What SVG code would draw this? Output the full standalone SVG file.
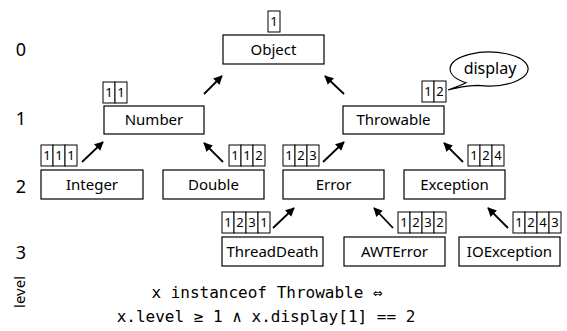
<svg xmlns="http://www.w3.org/2000/svg" width="567" height="331" viewBox="0 0 567 331">
<defs>
<style>
.box{fill:#fff;stroke:#000;stroke-width:1.2}
.cell{fill:#fff;stroke:#000;stroke-width:1}
.t{font-family:"Noto Sans","Open Sans",sans-serif;font-size:15px;text-anchor:middle;fill:#000}
.c{font-family:"Noto Sans","Open Sans",sans-serif;font-size:13px;text-anchor:middle;fill:#000}
.lv{font-family:"Noto Sans","Open Sans",sans-serif;font-size:18px;text-anchor:middle;fill:#000}
.code{font-family:"DejaVu Sans Mono","Liberation Mono",monospace;font-size:16px;text-anchor:middle;fill:#000}
.arr{stroke:#000;stroke-width:1.8;fill:none;marker-end:url(#ah)}
</style>
<marker id="ah" viewBox="0 0 10 10" refX="9" refY="5" markerWidth="5" markerHeight="5" orient="auto" markerUnits="strokeWidth">
<path d="M0,0 L10,5 L0,10 z" fill="#000"/>
</marker>
</defs>
<rect width="567" height="331" fill="#fff"/>

<g id="levels">
<text class="lv" x="21" y="56">0</text>
<text class="lv" x="21" y="125">1</text>
<text class="lv" x="21" y="193">2</text>
<text class="lv" x="21" y="259">3</text>
<text class="lv" transform="translate(25,292) rotate(-90)" style="font-size:15px">level</text>
</g>

<g id="connectors">
<line class="arr" x1="204" y1="94" x2="222" y2="76"/>
<line class="arr" x1="344" y1="94" x2="325" y2="76"/>
<line class="arr" x1="82" y1="162" x2="103" y2="142"/>
<line class="arr" x1="223" y1="162" x2="204" y2="143"/>
<line class="arr" x1="323" y1="162" x2="344" y2="142"/>
<line class="arr" x1="463" y1="162" x2="444" y2="143"/>
<line class="arr" x1="273" y1="228" x2="294" y2="208"/>
<line class="arr" x1="393" y1="228" x2="374" y2="208"/>
<line class="arr" x1="508" y1="228" x2="488" y2="208"/>
</g>

<g id="Object">
<rect class="box" x="223" y="35" width="101" height="29"/>
<text class="t" x="273.5" y="55">Object</text>
<rect class="cell" x="268" y="11" width="12" height="21"/>
<text class="c" x="274" y="26">1</text>
</g>

<g id="Number">
<rect class="box" x="104" y="106" width="100" height="28"/>
<text class="t" x="154" y="125">Number</text>
<rect class="cell" x="103" y="82" width="12" height="21"/>
<rect class="cell" x="115" y="82" width="12" height="21"/>
<text class="c" x="109" y="97">1</text>
<text class="c" x="121" y="97">1</text>
</g>

<g id="Throwable">
<rect class="box" x="343" y="106" width="101" height="28"/>
<text class="t" x="393.5" y="125">Throwable</text>
<rect class="cell" x="422" y="81" width="12" height="21"/>
<rect class="cell" x="434" y="81" width="12" height="21"/>
<text class="c" x="428" y="96">1</text>
<text class="c" x="440" y="96">2</text>
</g>

<g id="display">
<path d="M466,82.7 A39,17 0 1 1 478,85.3 Q461,86 448,90 Q459,86 466,82.7 z" fill="#fff" stroke="#000" stroke-width="1.2"/>
<text class="t" x="490" y="74" style="font-size:16px">display</text>
</g>

<g id="Integer">
<rect class="box" x="41" y="170" width="102" height="29"/>
<text class="t" x="92" y="190">Integer</text>
<rect class="cell" x="41" y="145" width="12" height="21"/>
<rect class="cell" x="53" y="145" width="12" height="21"/>
<rect class="cell" x="65" y="145" width="12" height="21"/>
<text class="c" x="47" y="160">1</text>
<text class="c" x="59" y="160">1</text>
<text class="c" x="71" y="160">1</text>
</g>

<g id="Double">
<rect class="box" x="163" y="170" width="101" height="29"/>
<text class="t" x="213.5" y="190">Double</text>
<rect class="cell" x="229" y="145" width="12" height="21"/>
<rect class="cell" x="241" y="145" width="12" height="21"/>
<rect class="cell" x="253" y="145" width="12" height="21"/>
<text class="c" x="235" y="160">1</text>
<text class="c" x="247" y="160">1</text>
<text class="c" x="259" y="160">2</text>
</g>

<g id="Error">
<rect class="box" x="283" y="170" width="101" height="29"/>
<text class="t" x="333.5" y="190">Error</text>
<rect class="cell" x="283" y="145" width="12" height="21"/>
<rect class="cell" x="295" y="145" width="12" height="21"/>
<rect class="cell" x="307" y="145" width="12" height="21"/>
<text class="c" x="289" y="160">1</text>
<text class="c" x="301" y="160">2</text>
<text class="c" x="313" y="160">3</text>
</g>

<g id="Exception">
<rect class="box" x="404" y="170" width="101" height="29"/>
<text class="t" x="454.5" y="190">Exception</text>
<rect class="cell" x="468" y="145" width="12" height="21"/>
<rect class="cell" x="480" y="145" width="12" height="21"/>
<rect class="cell" x="492" y="145" width="12" height="21"/>
<text class="c" x="474" y="160">1</text>
<text class="c" x="486" y="160">2</text>
<text class="c" x="498" y="160">4</text>
</g>

<g id="ThreadDeath">
<rect class="box" x="222" y="237" width="101" height="29"/>
<text class="t" x="272.5" y="257">ThreadDeath</text>
<rect class="cell" x="222" y="212" width="12" height="21"/>
<rect class="cell" x="234" y="212" width="12" height="21"/>
<rect class="cell" x="246" y="212" width="12" height="21"/>
<rect class="cell" x="258" y="212" width="12" height="21"/>
<text class="c" x="228" y="227">1</text>
<text class="c" x="240" y="227">2</text>
<text class="c" x="252" y="227">3</text>
<text class="c" x="264" y="227">1</text>
</g>

<g id="AWTError">
<rect class="box" x="344" y="237" width="101" height="29"/>
<text class="t" x="394.5" y="257">AWTError</text>
<rect class="cell" x="398" y="212" width="12" height="21"/>
<rect class="cell" x="410" y="212" width="12" height="21"/>
<rect class="cell" x="422" y="212" width="12" height="21"/>
<rect class="cell" x="434" y="212" width="12" height="21"/>
<text class="c" x="404" y="227">1</text>
<text class="c" x="416" y="227">2</text>
<text class="c" x="428" y="227">3</text>
<text class="c" x="440" y="227">2</text>
</g>

<g id="IOException">
<rect class="box" x="459" y="237" width="101" height="29"/>
<text class="t" x="509.5" y="257">IOException</text>
<rect class="cell" x="513" y="212" width="12" height="21"/>
<rect class="cell" x="525" y="212" width="12" height="21"/>
<rect class="cell" x="537" y="212" width="12" height="21"/>
<rect class="cell" x="549" y="212" width="12" height="21"/>
<text class="c" x="519" y="227">1</text>
<text class="c" x="531" y="227">2</text>
<text class="c" x="543" y="227">4</text>
<text class="c" x="555" y="227">3</text>
</g>

<g id="formula">
<text class="code" x="267" y="298">x instanceof Throwable ⇔</text>
<text class="code" x="266" y="322">x.level ≥ 1 ∧ x.display[1] == 2</text>
</g>
</svg>
